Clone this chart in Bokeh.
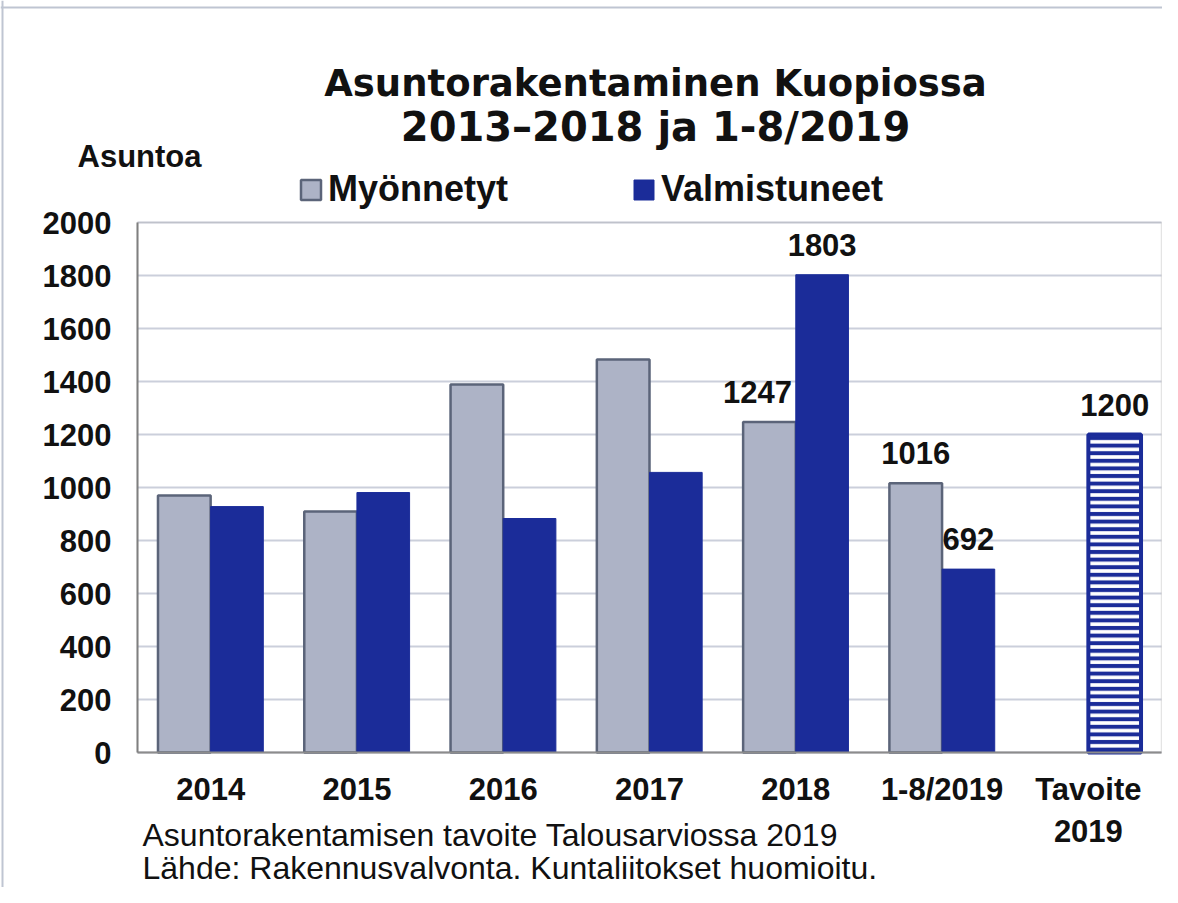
from bokeh.plotting import figure
from bokeh.models import (ColumnDataSource, Label, Legend, LegendItem, FixedTicker,
                          Range1d, BoxAnnotation, Grid, Span)
from bokeh.core.properties import value
from bokeh.embed import file_html
from bokeh.resources import INLINE

# ---------------- data ----------------
categories = ["2014", "2015", "2016", "2017", "2018", "1-8/2019", "Tavoite\n2019"]
bar_categories = ["2014", "2015", "2016", "2017", "2018", "1-8/2019"]
myonnetyt = [970, 909, 1389, 1483, 1247, 1016]
valmistuneet = [928, 981, 883, 1057, 1803, 692]
tavoite_category = ["Tavoite\n2019"]
tavoite_value = [1200]
y_ticks = [0, 200, 400, 600, 800, 1000, 1200, 1400, 1600, 1800, 2000]

title_lines = ["Asuntorakentaminen Kuopiossa", "2013\u20132018 ja 1-8/2019"]
y_label = "Asuntoa"
series_names = ["Myönnetyt", "Valmistuneet"]
notes = ["Asuntorakentamisen tavoite Talousarviossa 2019",
         "Lähde: Rakennusvalvonta. Kuntaliitokset huomioitu."]

# labelled values
lbl_cats = ["2018", "2018", "1-8/2019", "1-8/2019", "Tavoite\n2019"]
lbl_vals = [1247, 1803, 1016, 692, 1200]
lbl_series = ["m", "v", "m", "v", "v"]
lbl_x_px = [-12, 0, 0, 0, 0]

# ---------------- style / layout ----------------
GREY = "#adb3c6"
GREY_LINE = "#5b6479"
BLUE = "#1b2c99"
ARIAL = "Liberation Sans"
TXT = "#111111"
BAR_W = 0.36
OFF = {"m": -BAR_W / 2, "v": BAR_W / 2}

W, H = 1162, 887                 # canvas
PLOT_L, PLOT_T = 137, 222        # plot-area left / top (px)
PLOT_W, PLOT_H = 1024, 530       # plot-area size (px)
Y_MAX = 2000
n_cat = len(categories)
px_x = PLOT_W / n_cat            # px per category
px_y = PLOT_H / Y_MAX            # px per value unit

x_rng = Range1d(-PLOT_L / px_x, n_cat + (W - PLOT_L - PLOT_W) / px_x)
y_rng = Range1d(-(H - PLOT_T - PLOT_H) / px_y, Y_MAX + PLOT_T / px_y)

p = figure(width=W, height=H, frame_width=W, frame_height=H, min_border=0,
           x_range=x_rng, y_range=y_rng, output_backend="svg", toolbar_location=None)
p.background_fill_color = "white"
p.border_fill_color = "white"
p.outline_line_color = None

def pos(cat, series):
    return categories.index(cat) + 0.5 + OFF[series]

# bars
src_m = ColumnDataSource(dict(x=[pos(c, "m") for c in bar_categories], top=myonnetyt))
src_v = ColumnDataSource(dict(x=[pos(c, "v") for c in bar_categories], top=valmistuneet))
src_t = ColumnDataSource(dict(x=[pos(c, "v") for c in tavoite_category], top=tavoite_value))
r1 = p.vbar(x="x", top="top", width=BAR_W, source=src_m,
            fill_color=GREY, line_color=GREY_LINE, line_width=2.5)
r2 = p.vbar(x="x", top="top", width=BAR_W, source=src_v,
            fill_color=BLUE, line_color=BLUE, line_width=1)
p.vbar(x="x", top="top", width=BAR_W, source=src_t,
       fill_color="white", line_color=BLUE, line_width=4,
       hatch_pattern="horizontal_line", hatch_color=BLUE, hatch_scale=7.6, hatch_weight=4)

# value labels
for c, v, s, dx in zip(lbl_cats, lbl_vals, lbl_series, lbl_x_px):
    ls = ColumnDataSource(dict(x=[pos(c, s)], y=[v], t=[str(v)]))
    p.text(x="x", y="y", text="t", source=ls, text_font=value(ARIAL),
           text_font_style="bold", text_font_size="31px", text_align="center",
           text_baseline="alphabetic", x_offset=dx, y_offset=-30, text_color=TXT)

# plot-area box
p.add_layout(BoxAnnotation(left=0, right=n_cat, bottom=0, top=Y_MAX, fill_alpha=0,
                           line_color="#a6a6a6", line_width=1.5, level="underlay"))
# outer chart frame (top and left edges only)
p.add_layout(Span(location=y_rng.end - 7 / px_y, dimension="width",
                  line_color="#bfc5d2", line_width=2, level="underlay"))
p.add_layout(Span(location=x_rng.start + 2 / px_x, dimension="height",
                  line_color="#bfc5d2", line_width=2, level="underlay"))

# axes inside the canvas
xa, ya = p.xaxis[0], p.yaxis[0]
xa.fixed_location = 0
ya.fixed_location = 0
xa.bounds = (0, n_cat)
ya.bounds = (0, Y_MAX)
xa.ticker = FixedTicker(ticks=[i + 0.5 for i in range(n_cat)])
xa.major_label_overrides = {i + 0.5: c for i, c in enumerate(categories)}
ya.ticker = FixedTicker(ticks=y_ticks)
for ax in (xa, ya):
    ax.major_tick_line_color = None
    ax.minor_tick_line_color = None
    ax.major_label_text_font = ARIAL
    ax.major_label_text_font_style = "bold"
    ax.major_label_text_font_size = "31px"
    ax.major_label_text_color = TXT
ya.axis_line_color = "#7f7f7f"
ya.axis_line_width = 2
xa.axis_line_color = "#8c8c8c"
xa.axis_line_width = 2
ya.major_label_standoff = 20
xa.major_label_standoff = 13

p.xgrid.visible = False
yg = p.ygrid[0]
yg.grid_line_color = "#cbcfdb"
yg.grid_line_width = 2
if "cross_bounds" in Grid.properties():
    yg.cross_bounds = (0, n_cat)
else:
    yg.visible = False
    p.segment(x0=[0] * len(y_ticks), x1=[n_cat] * len(y_ticks), y0=y_ticks, y1=y_ticks,
              line_color="#cbcfdb", line_width=2, level="underlay")

# legend (location = bottom-left corner, px from canvas bottom-left)
legend = Legend(items=[LegendItem(label=series_names[0], renderers=[r1]),
                       LegendItem(label=series_names[1], renderers=[r2])],
                orientation="horizontal", location=(298, H - 210),
                glyph_width=25, glyph_height=25, label_standoff=5, spacing=123,
                padding=0, margin=0, border_line_color=None, background_fill_alpha=0,
                label_text_font=ARIAL, label_text_font_style="bold",
                label_text_font_size="36px", label_text_color=TXT)
p.add_layout(legend, "center")

# texts; y_base = wanted baseline in px from top (renderer sits ~0.37em lower)
def add_text(txt, x, y_base, font, size_px, bold=True, align="left"):
    y_top = y_base - 0.37 * size_px
    p.add_layout(Label(x=x, y=H - y_top, x_units="screen", y_units="screen", text=txt,
                       text_font=font, text_font_style="bold" if bold else "normal",
                       text_font_size=f"{size_px}px", text_align=align,
                       text_baseline="alphabetic", text_color=TXT))

add_text(title_lines[0], 655, 97, "DejaVu Sans", 37, align="center")
add_text(title_lines[1], 655, 141, "DejaVu Sans", 40, align="center")
add_text(y_label, 77, 167, ARIAL, 31)
add_text(notes[0], 142, 846, ARIAL, 32, bold=False)
add_text(notes[1], 142, 879, ARIAL, 32, bold=False)

open("out.html", "w").write(file_html(p, INLINE))
